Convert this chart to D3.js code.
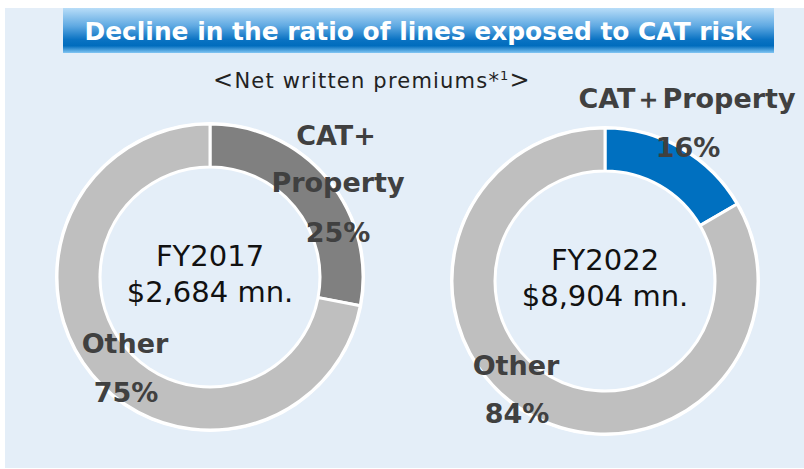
<!DOCTYPE html>
<html lang="en">
<head>
<meta charset="utf-8">
<title>CAT risk ratio</title>
<script src="https://d3js.org/d3.v7.min.js"></script>
<style>
  body { margin: 0; background: #ffffff; }
  svg text { font-family: "DejaVu Sans", Verdana, sans-serif; }
</style>
</head>
<body>
<div id="chart"></div>
<script>
// data
var years = ["FY2017", "FY2022"]
var totals = ["$2,684 mn.", "$8,904 mn."]
var categories = ["CAT+Property", "Other"]
// slice shares as drawn in the picture
var shares2017 = [28, 72]
var shares2022 = [16.6, 83.4]
var pctLabels2017 = ["25%", "75%"]
var pctLabels2022 = ["16%", "84%"]

var width = 804, height = 469

var svg = d3.select("#chart").append("svg")
    .attr("width", width)
    .attr("height", height)

var defs = svg.append("defs")
var grad = defs.append("linearGradient")
    .attr("id", "banner")
    .attr("x1", 0).attr("y1", 0).attr("x2", 0).attr("y2", 1)
grad.append("stop").attr("offset", "0%").attr("stop-color", "#b8ddf8")
grad.append("stop").attr("offset", "40%").attr("stop-color", "#5fa9e2")
grad.append("stop").attr("offset", "70%").attr("stop-color", "#0b73c3")
grad.append("stop").attr("offset", "84%").attr("stop-color", "#006cbd")
grad.append("stop").attr("offset", "100%").attr("stop-color", "#82c6f3")

// light blue panel
svg.append("rect")
    .attr("x", 5).attr("y", 8)
    .attr("width", width - 5).attr("height", height - 9)
    .attr("fill", "#e4eef8")

// title banner
svg.append("rect")
    .attr("x", 63).attr("y", 8)
    .attr("width", 711).attr("height", 45)
    .attr("fill", "url(#banner)")

svg.append("text")
    .attr("x", 418).attr("y", 40)
    .attr("text-anchor", "middle")
    .attr("fill", "#ffffff")
    .attr("textLength", 667)
    .attr("lengthAdjust", "spacingAndGlyphs")
    .style("font-weight", "bold")
    .style("font-size", "25px")
    .text("Decline in the ratio of lines exposed to CAT risk")

var sub = svg.append("text")
    .attr("x", 372).attr("y", 88)
    .attr("text-anchor", "middle")
    .attr("fill", "#222")
    .style("font-size", "21px")
    .style("letter-spacing", "1.2px")
sub.append("tspan").style("font-size", "24px").text("<")
sub.append("tspan").text("Net written premiums*")
sub.append("tspan").attr("dy", -8).style("font-size", "13px").text("1")
sub.append("tspan").attr("dy", 8).style("font-size", "24px").text(">")

var pie = d3.pie().sort(null).value(function(d) { return d })
var arc = d3.arc().innerRadius(110).outerRadius(153)

var charts = [
    {cx: 210, cy: 277, shares: shares2017, colors: ["#808080", "#bfbfbf"]},
    {cx: 605, cy: 281, shares: shares2022, colors: ["#0070c0", "#bfbfbf"]}
]

charts.forEach(function(c, i) {
    var g = svg.append("g")
        .attr("transform", "translate(" + c.cx + "," + c.cy + ")")
    g.append("circle").attr("r", 155).attr("fill", "#ffffff")
    g.selectAll("path")
        .data(pie(c.shares))
        .enter().append("path")
        .attr("d", arc)
        .attr("fill", function(d, j) { return c.colors[j] })
        .attr("stroke", "#ffffff")
        .attr("stroke-width", 3)
    g.append("circle").attr("r", 108.5).attr("fill", "#e4eef8")

    g.append("text")
        .attr("y", -11)
        .attr("text-anchor", "middle")
        .attr("fill", "#111")
        .style("font-size", "29px")
        .text(years[i])
    g.append("text")
        .attr("y", 25)
        .attr("text-anchor", "middle")
        .attr("fill", "#111")
        .style("font-size", "29px")
        .text(totals[i])
})

function boldLabel(x, y, t, anchor) {
    svg.append("text")
        .attr("x", x).attr("y", y)
        .attr("text-anchor", anchor || "middle")
        .attr("fill", "#404040")
        .style("font-weight", "bold")
        .style("font-size", "27px")
        .text(t)
}

// FY2017 labels
boldLabel(336, 145, "CAT+")
boldLabel(338, 192, "Property")
boldLabel(338, 242, pctLabels2017[0])
boldLabel(125, 353, "Other")
boldLabel(126, 402, pctLabels2017[1])

// FY2022 labels
boldLabel(687, 108, "CAT\uFF0BProperty")
boldLabel(688, 157, pctLabels2022[0])
boldLabel(516, 375, "Other")
boldLabel(517, 423, pctLabels2022[1])
</script>
</body>
</html>
